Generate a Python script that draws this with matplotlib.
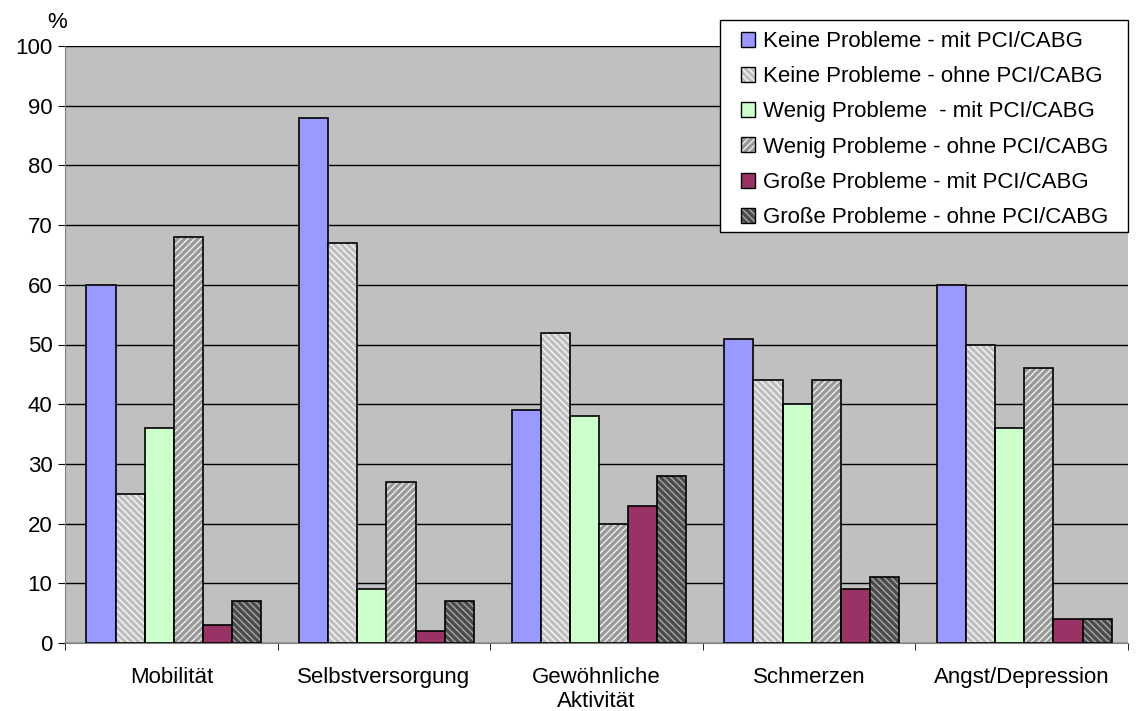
import matplotlib
matplotlib.use("Agg")
import matplotlib.pyplot as plt
import numpy as np
from matplotlib.patches import Patch, Rectangle

plt.rcParams['font.family'] = ['Liberation Sans', 'DejaVu Sans']
plt.rcParams['hatch.linewidth'] = 1.1

categories = ["Mobilität", "Selbstversorgung", "Gewöhnliche\nAktivität", "Schmerzen", "Angst/Depression"]
series_names = ["Keine Probleme - mit PCI/CABG", "Keine Probleme - ohne PCI/CABG",
                "Wenig Probleme  - mit PCI/CABG", "Wenig Probleme - ohne PCI/CABG",
                "Große Probleme - mit PCI/CABG", "Große Probleme - ohne PCI/CABG"]
keine_mit = [60, 88, 39, 51, 60]
keine_ohne = [25, 67, 52, 44, 50]
wenig_mit = [36, 9, 38, 40, 36]
wenig_ohne = [68, 27, 20, 44, 46]
grosse_mit = [3, 2, 23, 9, 4]
grosse_ohne = [7, 7, 28, 11, 4]
series = [keine_mit, keine_ohne, wenig_mit, wenig_ohne, grosse_mit, grosse_ohne]
yticks = list(range(0, 101, 10))

faces = ["#9999FF", "#BEBEBE", "#CCFFCC", "#989898", "#993366", "#4A4A4A"]
hatches = [None, "\\" * 5, None, "/" * 5, None, "\\" * 5]
hcolors = [None, "#F4F4F4", None, "#E8E8E8", None, "#A0A0A0"]

fig = plt.figure(figsize=(11.47, 7.11), dpi=100)
ax = fig.add_axes([65/1147, (711-643)/711, (1128-65)/1147, (643-46)/711])
ax.set_facecolor("#C0C0C0")

x = np.arange(len(categories))
w = 0.137
handles = []
for i, vals in enumerate(series):
    pos = x + (i - 2.5) * w + 0.012
    if hatches[i]:
        ax.bar(pos, vals, w, color=faces[i], hatch=hatches[i], edgecolor=hcolors[i],
               linewidth=0, zorder=3)
        ax.bar(pos, vals, w, facecolor="none", edgecolor="black", linewidth=1.2, zorder=4)
        h = (Patch(facecolor=faces[i], hatch=hatches[i], edgecolor=hcolors[i], linewidth=0),
             Patch(facecolor="none", edgecolor="black", linewidth=1.0))
    else:
        ax.bar(pos, vals, w, color=faces[i], edgecolor="black", linewidth=1.2, zorder=3)
        h = Patch(facecolor=faces[i], edgecolor="black", linewidth=1.0)
    handles.append(h)

ax.set_ylim(0, 100)
ax.set_xlim(-0.5, len(categories) - 0.5)
ax.set_yticks(yticks)
ax.yaxis.grid(True, color="black", linewidth=1, zorder=1)
ax.set_axisbelow(True)
for s in ["top", "right"]:
    ax.spines[s].set_visible(False)
ax.spines["left"].set_color("#808080")
ax.spines["bottom"].set_color("#808080")
ax.tick_params(axis="y", labelsize=16, length=5, color="black", pad=4)
ax.set_xticks(x)
ax.set_xticklabels(categories, fontsize=16)
ax.tick_params(axis="x", length=0, pad=17)
ax.set_xticks(np.arange(-0.5, len(categories)), minor=True)
ax.tick_params(axis="x", which="minor", length=5, color="black")

fig.text(57/1147, 1 - 22/711, "%", fontsize=16, ha="center", va="center")

frame = Rectangle((720/1147, 1 - 232/711), 408/1147, 212/711, transform=fig.transFigure,
                  facecolor="white", edgecolor="black", linewidth=1.0, zorder=5)
fig.add_artist(frame)
leg = fig.legend(handles, series_names, loc="upper left",
                 bbox_to_anchor=(741/1147, 1 - 31/711), fontsize=16,
                 frameon=False,
                 handlelength=0.65, handleheight=0.65, handletextpad=0.35,
                 labelspacing=0.64, borderpad=0, borderaxespad=0)
leg.set_zorder(6)

fig.savefig("out.png", dpi=100)
